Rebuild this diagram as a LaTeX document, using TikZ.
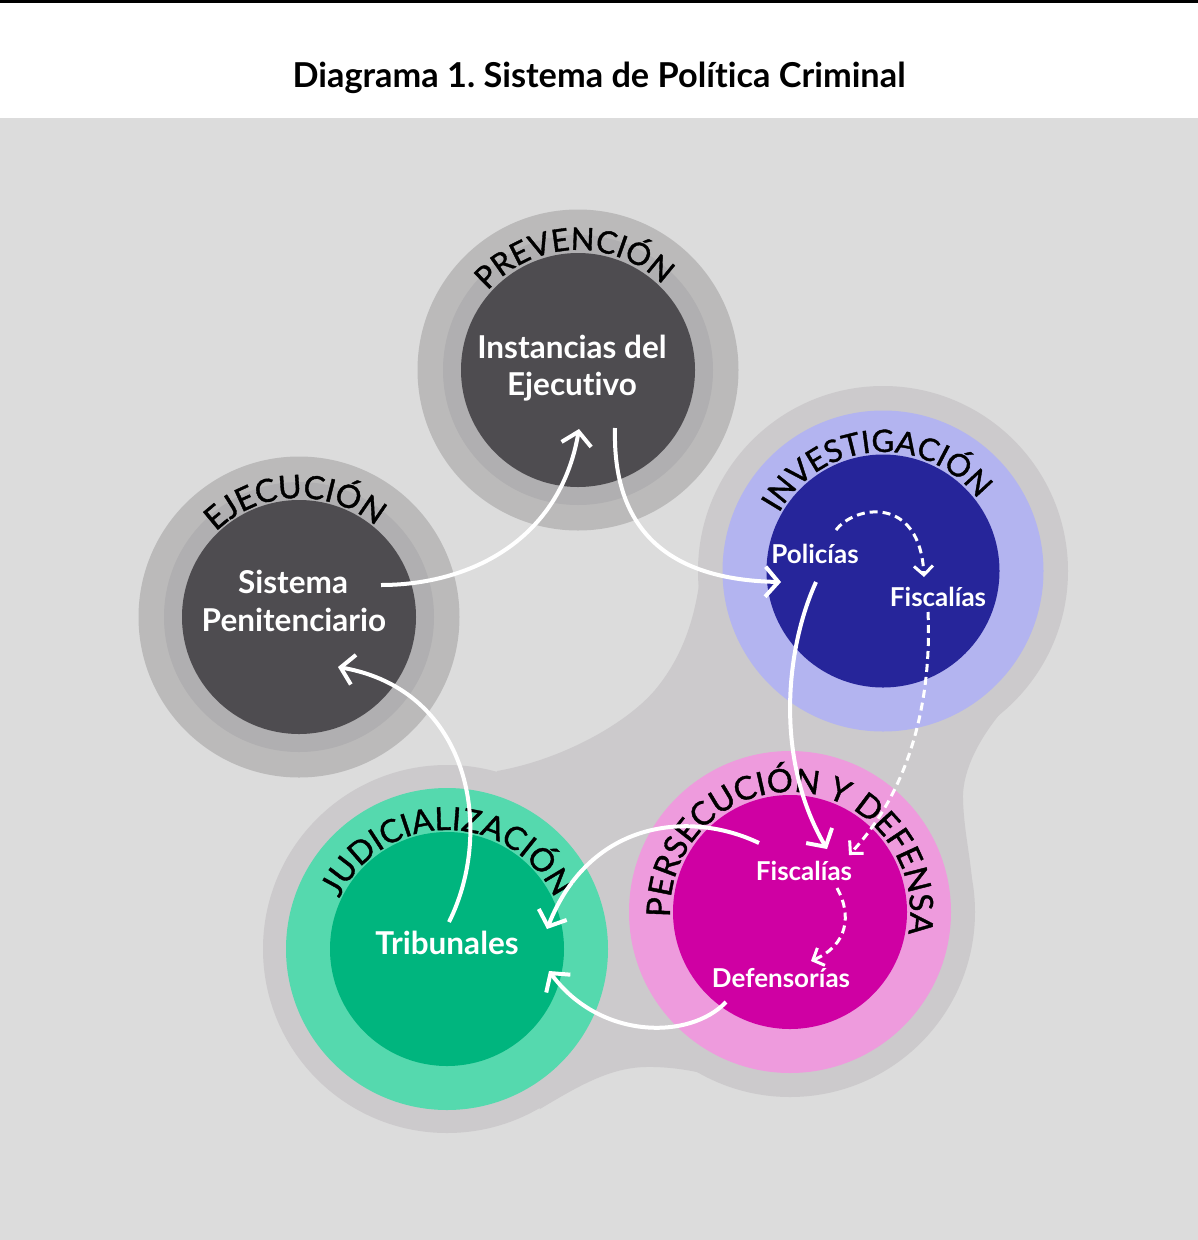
\documentclass[tikz,border=0pt]{standalone}
\usepackage{fontspec}
\setmainfont{Lato}[Ligatures={NoCommon}]
\newfontfamily\ringfont{Lato}[FakeBold=1.2, Ligatures={NoCommon}]
\usetikzlibrary{arrows.meta,decorations.text,calc}
\frenchspacing

\definecolor{bgGray}{HTML}{DCDCDC}
\definecolor{blobGray}{HTML}{CCCACC}
\definecolor{ringOuter}{HTML}{BBBABA}
\definecolor{ringMid}{HTML}{B0AFB1}
\definecolor{coreGray}{HTML}{4E4C50}
\definecolor{invLight}{HTML}{B3B4F0}
\definecolor{invCore}{HTML}{26259A}
\definecolor{perLight}{HTML}{EE9BDD}
\definecolor{perCore}{HTML}{CF00A3}
\definecolor{judLight}{HTML}{55D9AE}
\definecolor{judCore}{HTML}{00B57E}

\tikzset{
  disc/.style={circle, draw=none, inner sep=0pt, minimum size=#1},
  bigLabel/.style={text=white, anchor=base, inner sep=0pt,
    font=\bfseries\fontsize{31.5}{36}\selectfont},
  smallLabel/.style={text=white, anchor=base, inner sep=0pt,
    font=\bfseries\fontsize{26}{30}\selectfont},
  flow/.style={draw=white, line width=4pt,
    -{Straight Barb[length=13pt,width=30pt]}},
  subflow/.style={draw=white, line width=3pt, dash pattern=on 8pt off 5pt,
    -{Straight Barb[length=9pt,width=19pt]}},
}

\begin{document}
\begin{tikzpicture}[x=1pt,y=-1pt]
\useasboundingbox (0,0) rectangle (1198,1240);

% page frame: white header, grey field, black top rule
\fill[white] (0,0) rectangle (1198,118);
\fill[bgGray] (0,118) rectangle (1198,1240);
\fill[black] (0,0) rectangle (1198,2.5);

\node[anchor=base, inner sep=0pt, font=\bfseries\fontsize{34.3}{40}\selectfont]
  (title) at (599,87) {Diagrama 1. Sistema de Política Criminal};

% grey backdrop joining the three lower stages
\node[disc=370pt, fill=blobGray] (invHalo) at (883,571) {};
\node[disc=370pt, fill=blobGray] (perHalo) at (790,912) {};
\node[disc=368pt, fill=blobGray] (judHalo) at (447,949) {};
\fill[blobGray] (497,771) .. controls (560,760) and (625,725) .. (655,690)
  .. controls (680,660) and (693,625) .. (699,585) -- (883,571) -- (999,715)
  .. controls (975,745) and (962,775) .. (963,800)
  .. controls (964,830) and (970,855) .. (972,880) -- (790,912) -- (765,1093)
  .. controls (730,1080) and (690,1066) .. (645,1067)
  .. controls (610,1068) and (580,1085) .. (540,1109) -- (447,949) -- cycle;

% Prevención
\node[disc=321pt, fill=ringOuter] (prevOuter) at (578,370) {};
\node[disc=270pt, fill=ringMid] (prevMid) at (578,370) {};
\node[disc=234pt, fill=coreGray] (prevCore) at (578,370) {};

% Ejecución
\node[disc=321pt, fill=ringOuter] (ejeOuter) at (299,617) {};
\node[disc=270pt, fill=ringMid] (ejeMid) at (299,617) {};
\node[disc=234pt, fill=coreGray] (ejeCore) at (299,617) {};

% Investigación
\node[disc=321pt, fill=invLight] (invRing) at (883,571) {};
\node[disc=233pt, fill=invCore] (invCore) at (883,571) {};

% Persecución y defensa
\node[disc=322pt, fill=perLight] (perRing) at (790,912) {};
\node[disc=234pt, fill=perCore] (perCore) at (790,912) {};

% Judicialización
\node[disc=322pt, fill=judLight] (judRing) at (447,949) {};
\node[disc=234pt, fill=judCore] (judCore) at (447,949) {};

% stage names set along the rings
\path[decorate, decoration={text along path, text align=center,
    text={|\ringfont\fontsize{31}{36}\selectfont|PREVENCIÓN}}]
  ($(prevCore.center)+(-172:120)$) arc[start angle=-172, end angle=-12, radius=120];
\path[decorate, decoration={text along path, text align=center,
    text={|\ringfont\fontsize{32}{36}\selectfont|EJECUCIÓN}}]
  ($(ejeCore.center)+(-172:119)$) arc[start angle=-172, end angle=-12, radius=119];
\path[decorate, decoration={text along path, text align=center,
    text={|\ringfont\fontsize{31}{36}\selectfont|INVESTIGACIÓN}}]
  ($(invCore.center)+(-174:119)$) arc[start angle=-174, end angle=-14, radius=119];
\path[decorate, decoration={text along path, text align=center,
    text={|\ringfont\fontsize{32.5}{38}\selectfont|PERSECUCIÓN Y DEFENSA}}]
  ($(perCore.center)+(-186:120)$) arc[start angle=-186, end angle=14, radius=120];
\path[decorate, decoration={text along path, text align=center,
    text={|\ringfont\fontsize{32}{36}\selectfont|JUDICIALIZACIÓN}}]
  ($(judCore.center)+(-170:119)$) arc[start angle=-170, end angle=-10, radius=119];

% institutions
\node[bigLabel] (instA) at (572,358) {Instancias del};
\node[bigLabel] (instB) at (572,395) {Ejecutivo};
\node[bigLabel] (sisA) at (293,593) {Sistema};
\node[bigLabel] (sisB) at (294,631) {Penitenciario};
\node[bigLabel] (trib) at (447,954) {Tribunales};
\node[smallLabel] (pol) at (815,563) {Policías};
\node[smallLabel] (fisInv) at (938,606) {Fiscalías};
\node[smallLabel] (fisPer) at (804,880) {Fiscalías};
\node[smallLabel] (def) at (781,987) {Defensorías};

% connector end points
\coordinate (sisOut) at (381,585);
\coordinate (instIn) at (579,429);
\coordinate (instOut) at (615,428);
\coordinate (polIn) at (781,582);
\coordinate (polOut) at (816,582);
\coordinate (fisPerIn) at (827,849);
\coordinate (fisPerOut) at (759,843);
\coordinate (tribInA) at (547,929);
\coordinate (defOut) at (726,1002);
\coordinate (tribInB) at (549,971);
\coordinate (tribOut) at (449,922);
\coordinate (sisIn) at (338,667);
\coordinate (polDash) at (836,530);
\coordinate (fisInvIn) at (924,577);
\coordinate (fisInvOut) at (928,612);
\coordinate (fisPerDash) at (849,855);
\coordinate (fisPerDashOut) at (837,888);
\coordinate (defIn) at (811,961);

% main flow
\draw[flow] (sisOut) .. controls (470,585) and (560,540) .. (instIn);
\draw[flow] (instOut) .. controls (612,540) and (680,580) .. (polIn);
\draw[flow] (polOut) .. controls (785,650) and (775,760) .. (fisPerIn);
\draw[flow] (fisPerOut) .. controls (690,810) and (590,820) .. (tribInA);
\draw[flow] (defOut) .. controls (690,1040) and (600,1040) .. (tribInB);
\draw[flow] (tribOut) .. controls (495,830) and (470,690) .. (sisIn);

% internal hand-offs
\draw[subflow] (polDash) .. controls (855,505) and (920,495) .. (fisInvIn);
\draw[subflow] (fisInvOut) .. controls (932,700) and (910,790) .. (fisPerDash);
\draw[subflow] (fisPerDashOut) .. controls (852,915) and (848,945) .. (defIn);

\end{tikzpicture}
\end{document}
